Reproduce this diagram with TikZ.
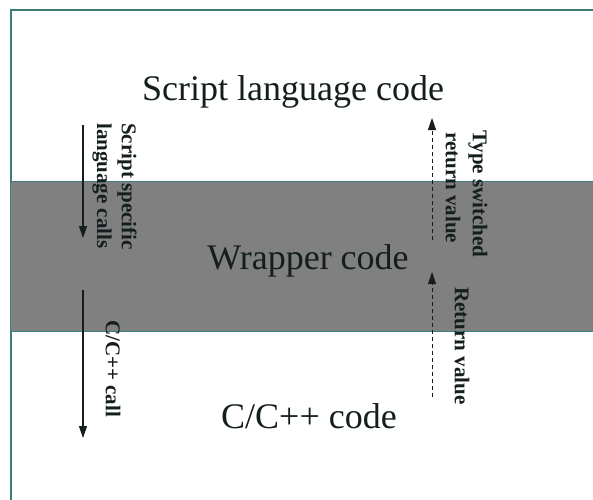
\documentclass[tikz,border=0pt]{standalone}
\usepackage{fontspec}
\setmainfont{Liberation Serif}
\usetikzlibrary{arrows.meta}
\definecolor{band}{RGB}{128,128,128}
\definecolor{edge}{RGB}{60,125,125}
\definecolor{ink}{RGB}{20,30,30}
\begin{document}
\begin{tikzpicture}[x=1pt,y=-1pt,
  big/.style={font=\fontsize{36}{40}\selectfont, text=ink, inner sep=0pt},
  lbl/.style={font=\bfseries\fontsize{21}{24}\selectfont, text=ink, rotate=-90, anchor=west, inner sep=0pt},
  callarrow/.style={draw=ink, line width=1.1pt, -{Triangle[length=12pt,width=8pt]}},
  retarrow/.style={draw=ink, line width=0.8pt, dash pattern=on 4pt off 3pt, -{Triangle[length=12pt,width=8pt]}},
  frameline/.style={draw=edge, line width=1.2pt},
]
\useasboundingbox (0,0) rectangle (593,499);
\clip (0,0) rectangle (593,499);
\fill[white] (0,0) rectangle (593,499);
\draw[frameline] (11,10) rectangle (620,520);
\fill[band] (11,181) rectangle (620,331);
\draw[frameline, line width=0.8pt] (11,181) -- (620,181) (11,331) -- (620,331);

\node[big] (script) at (293,92) {Script language code};
\node[big] (wrapper) at (308,261) {Wrapper code};
\node[big] (ccode) at (309,416) {C/C++ code};

\node[lbl] (lblA) at (127,123) {Script specific};
\node[lbl] (lblB) at (102,123) {language calls};
\node[lbl] (lblC) at (113,320) {C/C++ call};
\node[lbl] (lblD) at (478,130) {Type switched};
\node[lbl] (lblE) at (453,132) {return value};
\node[lbl] (lblF) at (462,287) {Return value};

\coordinate (a1s) at (83,125);
\coordinate (a1e) at (83,238);
\coordinate (a2s) at (83,290);
\coordinate (a2e) at (83,438);
\coordinate (r1s) at (432,240);
\coordinate (r1e) at (432,118);
\coordinate (r2s) at (432,397);
\coordinate (r2e) at (432,272);

\draw[callarrow] (a1s) -- (a1e);
\draw[callarrow] (a2s) -- (a2e);
\draw[retarrow] (r1s) -- (r1e);
\draw[retarrow] (r2s) -- (r2e);
\end{tikzpicture}
\end{document}
